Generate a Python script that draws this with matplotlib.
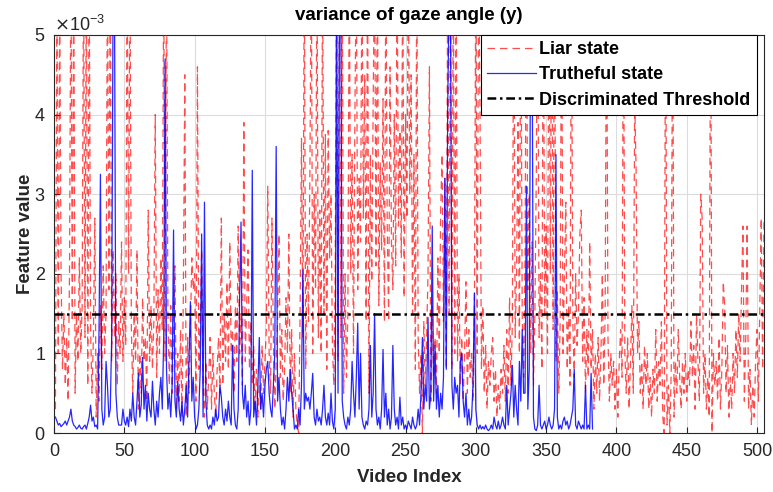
import numpy as np
import matplotlib
matplotlib.use("Agg")
import matplotlib.pyplot as plt
from matplotlib.ticker import ScalarFormatter

plt.rcParams['font.family'] = ['Liberation Sans', 'DejaVu Sans']

# Feature values (x 1e-3) per video, liar recordings
liar = [
    0.3, 5.5, 1.0, 5.5, 2.0, 0.8, 1.5, 0.6, 1.2, 0.4,
    2.0, 6.0, 1.4, 6.0, 0.5, 1.5, 0.9, 2.2, 1.0, 1.6,
    6.0, 1.2, 6.0, 0.6, 6.0, 1.3, 0.5, 1.2, 2.7, 0.2,
    1.0, 0.4, 1.6, 0.8, 2.1, 1.0, 1.5, 6.0, 1.8, 6.0,
    0.9, 2.3, 1.2, 2.0, 0.6, 1.4, 1.0, 2.4, 0.9, 1.7,
    1.1, 6.0, 2.0, 6.0, 1.3, 0.5, 1.5, 0.9, 2.3, 0.3,
    1.0, 0.5, 1.7, 0.9, 1.2, 0.4, 2.8, 0.9, 1.6, 0.8,
    1.4, 4.0, 0.7, 1.8, 1.0, 2.2, 1.3, 6.0, 0.9, 6.0,
    1.5, 0.6, 1.6, 0.5, 1.2, 2.1, 0.3, 1.0, 0.4, 1.3,
    0.2, 1.8, 4.5, 0.2, 1.2, 0.5, 1.3, 2.2, 1.8, 2.0,
    0.4, 4.6, 0.8, 1.4, 2.3, 0.6, 0.2, 0.9, 0.3, 0.7,
    1.2, 0.3, 1.0, 0.5, 0.2, 0.8, 1.2, 0.5, 2.7, 0.6,
    1.5, 0.9, 1.9, 0.8, 2.4, 1.0, 1.3, 0.5, 1.6, 0.9,
    2.6, 1.0, 1.5, 0.6, 3.9, 0.9, 1.6, 2.3, 0.8, 1.4,
    0.6, 1.1, 0.3, 0.8, 0.2, 0.6, 0.3, 1.1, 0.5, 0.9,
    1.3, 3.1, 1.0, 0.5, 2.7, 1.2, 0.3, 0.9, 1.4, 2.5,
    0.7, 1.3, 0.4, 0.8, 1.7, 1.0, 2.5, 0.5, 1.3, 0.2,
    1.0, 0.3, 0.1, 0.0, 1.5, 3.7, 1.2, 6.0, 0.8, 2.5,
    1.4, 3.3, 6.0, 1.0, 3.0, 1.8, 6.0, 1.2, 2.8, 1.0,
    6.0, 1.5, 3.75, 0.8, 3.8, 2.2, 3.0, 1.1, 0.6, 2.0,
    6.0, 0.9, 6.0, 1.2, 6.0, 0.5, 2.0, 0.7, 1.5, 6.0,
    2.0, 3.5, 1.0, 4.0, 6.0, 1.8, 3.2, 2.4, 6.0, 2.7,
    4.5, 1.4, 6.0, 0.5, 3.5, 1.9, 4.2, 6.0, 2.1, 6.0,
    1.6, 3.4, 2.3, 4.2, 1.4, 6.0, 2.6, 1.4, 4.6, 2.4,
    1.8, 4.0, 2.1, 6.0, 2.6, 3.8, 2.2, 6.0, 1.7, 4.0,
    2.7, 6.0, 3.0, 4.5, 1.5, 3.5, 0.8, 6.0, 1.2, 0.5,
    1.0, 0.0, 1.4, 0.6, 1.2, 2.0, 4.6, 0.4, 1.6, 0.7,
    1.2, 0.5, 2.2, 1.0, 2.8, 3.5, 1.4, 3.2, 0.8, 6.0,
    1.5, 6.0, 0.8, 6.0, 1.0, 6.0, 0.9, 2.0, 0.6, 1.2,
    0.4, 1.0, 1.9, 0.5, 1.3, 0.7, 1.0, 0.4, 1.5, 6.0,
    1.0, 6.0, 4.0, 0.8, 1.6, 0.5, 1.1, 0.3, 0.9, 0.6,
    1.0, 1.2, 0.4, 0.8, 0.2, 0.6, 0.3, 0.8, 0.5, 1.1,
    0.4, 1.3, 0.5, 1.7, 0.6, 1.4, 6.0, 1.2, 2.0, 3.9,
    1.0, 6.0, 1.5, 0.7, 2.2, 6.0, 1.8, 3.0, 1.0, 2.4,
    0.6, 1.5, 3.2, 6.0, 1.2, 2.0, 0.8, 6.0, 1.5, 2.6,
    1.0, 6.0, 2.0, 6.0, 1.3, 6.0, 0.9, 1.8, 0.5, 1.4,
    6.0, 1.0, 2.0, 2.9, 0.8, 1.6, 0.6, 6.0, 1.4, 0.7,
    2.0, 1.1, 1.5, 2.5, 2.8, 0.9, 1.7, 0.5, 1.3, 0.7,
    2.4, 0.8, 1.3, 0.3, 1.0, 0.5, 1.2, 0.4, 1.0, 2.0,
    0.6, 1.5, 6.0, 1.2, 0.4, 1.0, 0.6, 0.9, 0.3, 0.8,
    0.2, 0.9, 1.3, 0.7, 6.0, 1.0, 0.5, 1.2, 0.3, 0.9,
    1.6, 0.5, 4.2, 3.3, 1.0, 1.4, 0.5, 0.9, 0.3, 1.1,
    0.6, 1.0, 0.3, 0.7, 0.2, 0.8, 0.5, 1.3, 0.4, 0.9,
    0.6, 1.4, 0.2, 0.0, 6.0, 0.1, 0.6, 0.0, 0.8, 6.0,
    0.2, 0.9, 0.5, 1.3, 0.7, 0.3, 0.9, 0.5, 1.0, 0.4,
    0.8, 0.6, 1.4, 0.7, 1.1, 0.3, 1.5, 0.9, 0.4, 3.0,
    2.7, 0.5, 1.0, 0.3, 0.7, 0.2, 6.0, 0.0, 1.0, 0.6,
    0.9, 0.4, 1.2, 0.3, 0.8, 1.9, 1.6, 0.5, 1.1, 0.2,
    0.7, 0.3, 1.0, 0.5, 1.3, 0.7, 1.5, 0.9, 1.8, 2.6,
    0.4, 1.2, 2.6, 0.3, 0.8, 0.1, 0.6, 0.2, 0.9, 1.3,
    0.4, 1.6, 2.7, 0.8, 2.7,
]

# Feature values (x 1e-3) per video, truthful recordings
truthful = [
    0.2, 0.15, 0.1, 0.12, 0.08, 0.1, 0.12, 0.15, 0.1,
    0.15, 0.2, 0.3, 0.15, 0.1, 0.08, 0.05, 0.07, 0.1, 0.06,
    0.05, 0.08, 0.1, 0.05, 0.12, 0.2, 0.35, 0.15, 0.2, 0.08,
    0.1, 0.05, 1.3, 3.25, 0.3, 0.1, 0.2, 0.9, 0.6, 0.2,
    0.3, 1.2, 5.5, 5.5, 0.5, 0.2, 0.1, 0.1, 0.1, 0.3,
    0.15, 0.1, 0.2, 0.08, 0.3, 0.15, 0.5, 0.2, 0.1, 0.4,
    0.75, 0.2, 0.35, 0.95, 0.3, 0.6, 0.15, 0.5, 0.3, 0.2,
    0.65, 0.3, 0.1, 0.4, 0.2, 0.5, 0.7, 0.3, 1.2, 4.7,
    0.8, 0.3, 0.5, 0.2, 0.6, 2.55, 0.4, 0.2, 0.65, 0.3,
    0.15, 0.4, 0.1, 0.3, 0.6, 0.2, 0.9, 1.65, 0.4, 0.7,
    0.2, 0.05, 0.1, 0.3, 0.8, 2.5, 0.2, 2.9, 0.4, 0.1,
    0.05, 0.1, 0.05, 0.2, 0.1, 0.3, 0.15, 0.2, 0.6, 0.45,
    0.2, 0.1, 0.3, 0.15, 0.4, 0.2, 0.1, 1.1, 0.3, 0.1,
    0.05, 0.3, 1.7, 2.65, 0.5, 0.3, 0.6, 0.2, 0.4, 0.1,
    0.3, 3.3, 0.2, 0.4, 0.1, 0.6, 1.2, 0.3, 0.5, 0.2,
    0.6, 0.8, 0.9, 0.5, 0.3, 0.2, 0.6, 1.0, 3.6, 0.4,
    0.7, 0.3, 0.1, 0.2, 0.05, 0.3, 0.7, 0.4, 0.8, 0.5,
    0.3, 0.05, 0.1, 0.05, 0.3, 0.1, 0.6, 2.05, 0.3, 0.5,
    0.4, 0.45, 0.3, 0.5, 0.75, 0.2, 0.1, 0.3, 0.15, 0.2,
    0.1, 0.3, 0.6, 0.2, 0.1, 0.25, 0.1, 0.5, 0.15, 0.05,
    0.3, 5.5, 0.5, 5.5, 5.5, 0.4, 0.2, 0.1, 0.05, 0.2,
    0.1, 0.3, 0.9, 0.5, 0.2, 0.7, 1.38, 0.3, 1.0, 0.2,
    0.1, 0.05, 0.15, 0.1, 0.3, 1.1, 0.2, 0.5, 1.5, 0.3,
    0.1, 0.2, 0.05, 0.3, 1.05, 0.2, 0.5, 0.1, 0.3, 0.05,
    0.2, 1.1, 0.3, 0.1, 0.2, 0.05, 0.45, 0.1, 0.2, 0.05,
    0.1, 0.05, 0.15, 0.1, 0.05, 0.2, 0.1, 0.05, 0.1, 0.3,
    0.1, 0.5, 1.2, 0.3, 0.6, 0.4, 1.45, 0.3, 0.5, 2.6,
    0.4, 1.1, 0.3, 0.6, 0.2, 0.5, 0.3, 0.7, 3.2, 0.8,
    4.1, 5.5, 5.5, 0.6, 0.3, 0.7, 0.5, 0.6, 0.2, 0.9,
    1.0, 0.4, 0.2, 0.5, 0.1, 0.3, 0.1, 0.2, 0.6, 1.76,
    0.3, 0.1, 0.05, 0.1, 0.05, 0.08, 0.05, 0.1, 0.05, 0.03,
    0.05, 0.1, 0.05, 0.2, 0.1, 0.05, 0.15, 0.05, 0.1, 0.2,
    0.1, 0.05, 0.6, 0.1, 0.3, 0.5, 0.85, 0.2, 0.6, 0.3,
    0.1, 0.9, 0.4, 1.3, 0.5, 0.5, 3.1, 0.3, 0.8, 5.5,
    5.5, 0.2, 0.05, 0.03, 0.1, 0.6, 0.1, 0.05, 0.1, 0.15,
    0.05, 0.1, 0.2, 0.1, 0.05, 0.1, 0.3, 3.5, 0.2, 0.05,
    0.1, 0.05, 0.15, 0.2, 0.1, 0.15, 0.05, 0.1, 0.2, 0.3,
    0.8, 0.1, 0.05, 0.15, 0.1, 0.05, 0.1, 0.05, 0.6, 0.05,
    0.1, 0.05, 0.75, 0.05,
]

threshold = 1.5  # x 1e-3

x_liar = np.arange(1, len(liar) + 1)
x_truth = np.arange(1, len(truthful) + 1)
liar_v = np.array(liar) * 1e-3
truth_v = np.array(truthful) * 1e-3

fig = plt.figure(figsize=(7.73, 4.92), dpi=100)
ax = fig.add_axes([0.0699, 0.1199, 0.9185, 0.809])

ax.plot(x_liar, liar_v, color=(1.0, 0.0, 0.0), alpha=0.7, lw=0.9,
        linestyle=(0, (6, 4)), label='Liar state', zorder=3)
ax.plot(x_truth, truth_v, color=(0.0, 0.0, 1.0), alpha=0.85, lw=0.9,
        label='Trutheful state', zorder=4)
ax.axhline(threshold * 1e-3, color='black', lw=1.8,
           linestyle=(0, (3.5, 1.5, 1, 1.5)), label='Discriminated Threshold',
           zorder=5)

ax.set_xlim(0, 505)
ax.set_ylim(0, 5e-3)
ax.set_xticks(np.arange(0, 501, 50))
ax.set_yticks(np.arange(0, 5.01e-3, 1e-3))

fmt = ScalarFormatter(useMathText=True)
fmt.set_powerlimits((-2, 2))
ax.yaxis.set_major_formatter(fmt)
ax.yaxis.get_offset_text().set_fontsize(13)
ax.yaxis.get_offset_text().set_color('#262626')

ax.grid(True, color='#dcdcdc', lw=0.8, zorder=0)
ax.set_axisbelow(True)
ax.tick_params(direction='in', labelsize=13, colors='#262626',
               length=4, top=False, right=False)
ax.tick_params(axis='x', pad=7)
ax.tick_params(axis='y', pad=6)
for s in ax.spines.values():
    s.set_color('#262626')
    s.set_linewidth(0.8)

ax.set_title('variance of gaze angle (y)', fontsize=13.5, fontweight='bold',
             pad=11)
ax.set_xlabel('Video Index', fontsize=13.5, fontweight='bold',
              color='#262626', labelpad=7)
ax.set_ylabel('Feature value', fontsize=13.5, fontweight='bold',
              color='#262626', labelpad=0)

leg = ax.legend(loc='upper right', bbox_to_anchor=(0.99, 1.0),
                borderaxespad=0, fancybox=False, framealpha=1,
                edgecolor='black', handlelength=2.7, handletextpad=0.2,
                labelspacing=0.45, borderpad=0.35,
                prop={'weight': 'bold', 'size': 13})
leg.get_frame().set_linewidth(0.8)

fig.savefig('out.png', dpi=100)
